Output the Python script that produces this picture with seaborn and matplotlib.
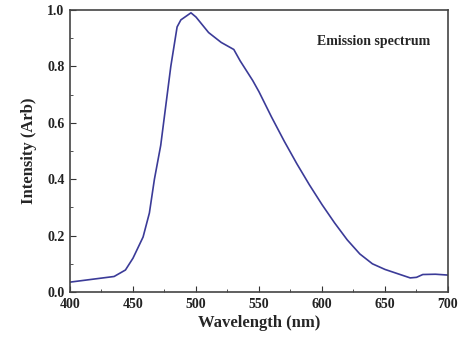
import numpy as np
import pandas as pd
import matplotlib
matplotlib.use("Agg")
import matplotlib.pyplot as plt
from matplotlib.ticker import MultipleLocator
import seaborn as sns

# emission spectrum
wavelength = [400, 435, 444, 450, 458, 463, 467, 472, 476, 480, 485, 488, 496, 500,
              510, 520, 530, 535, 545, 550, 560, 570, 580, 590, 600, 610, 620,
              630, 640, 650, 660, 670, 675, 680, 690, 700]
intensity = [0.035, 0.055, 0.078, 0.12, 0.195, 0.28, 0.40, 0.52, 0.66, 0.80, 0.94, 0.965,
             0.99, 0.975, 0.92, 0.885, 0.86, 0.82, 0.75, 0.71, 0.62, 0.535, 0.455, 0.38,
             0.31, 0.245, 0.185, 0.135, 0.10, 0.08, 0.065, 0.05, 0.052, 0.062, 0.063, 0.06]

df = pd.DataFrame({"wavelength": wavelength, "intensity": intensity})

sns.set_style("ticks")
plt.rcParams["font.family"] = ["Liberation Serif", "DejaVu Serif"]
plt.rcParams["font.weight"] = "bold"

fig = plt.figure(figsize=(4.63, 3.37), dpi=100)
ax = fig.add_axes([70 / 463, 45 / 337, 378 / 463, 282 / 337])

sns.lineplot(data=df, x="wavelength", y="intensity", ax=ax,
             color="#3b3b98", linewidth=1.2)

ax.set_xlim(400, 700)
ax.set_ylim(0, 1.0)
ax.xaxis.set_major_locator(MultipleLocator(50))
ax.xaxis.set_minor_locator(MultipleLocator(25))
ax.yaxis.set_major_locator(MultipleLocator(0.2))
ax.yaxis.set_minor_locator(MultipleLocator(0.1))
ax.tick_params(which="both", direction="in", colors="#333333", labelcolor="#222222")
ax.tick_params(which="major", length=4, labelsize=10, pad=4)
ax.tick_params(which="minor", length=2)
for sp in ax.spines.values():
    sp.set_linewidth(1.2)
    sp.set_color("#444444")

ax.set_xlabel("Wavelength (nm)", fontsize=12, fontweight="bold", labelpad=3)
ax.set_ylabel("Intensity (Arb)", fontsize=12, fontweight="bold", labelpad=7)
ax.text(0.952, 0.887, "Emission spectrum", transform=ax.transAxes,
        ha="right", va="center", fontsize=10, fontweight="bold")

fig.savefig("out.png", dpi=100)
